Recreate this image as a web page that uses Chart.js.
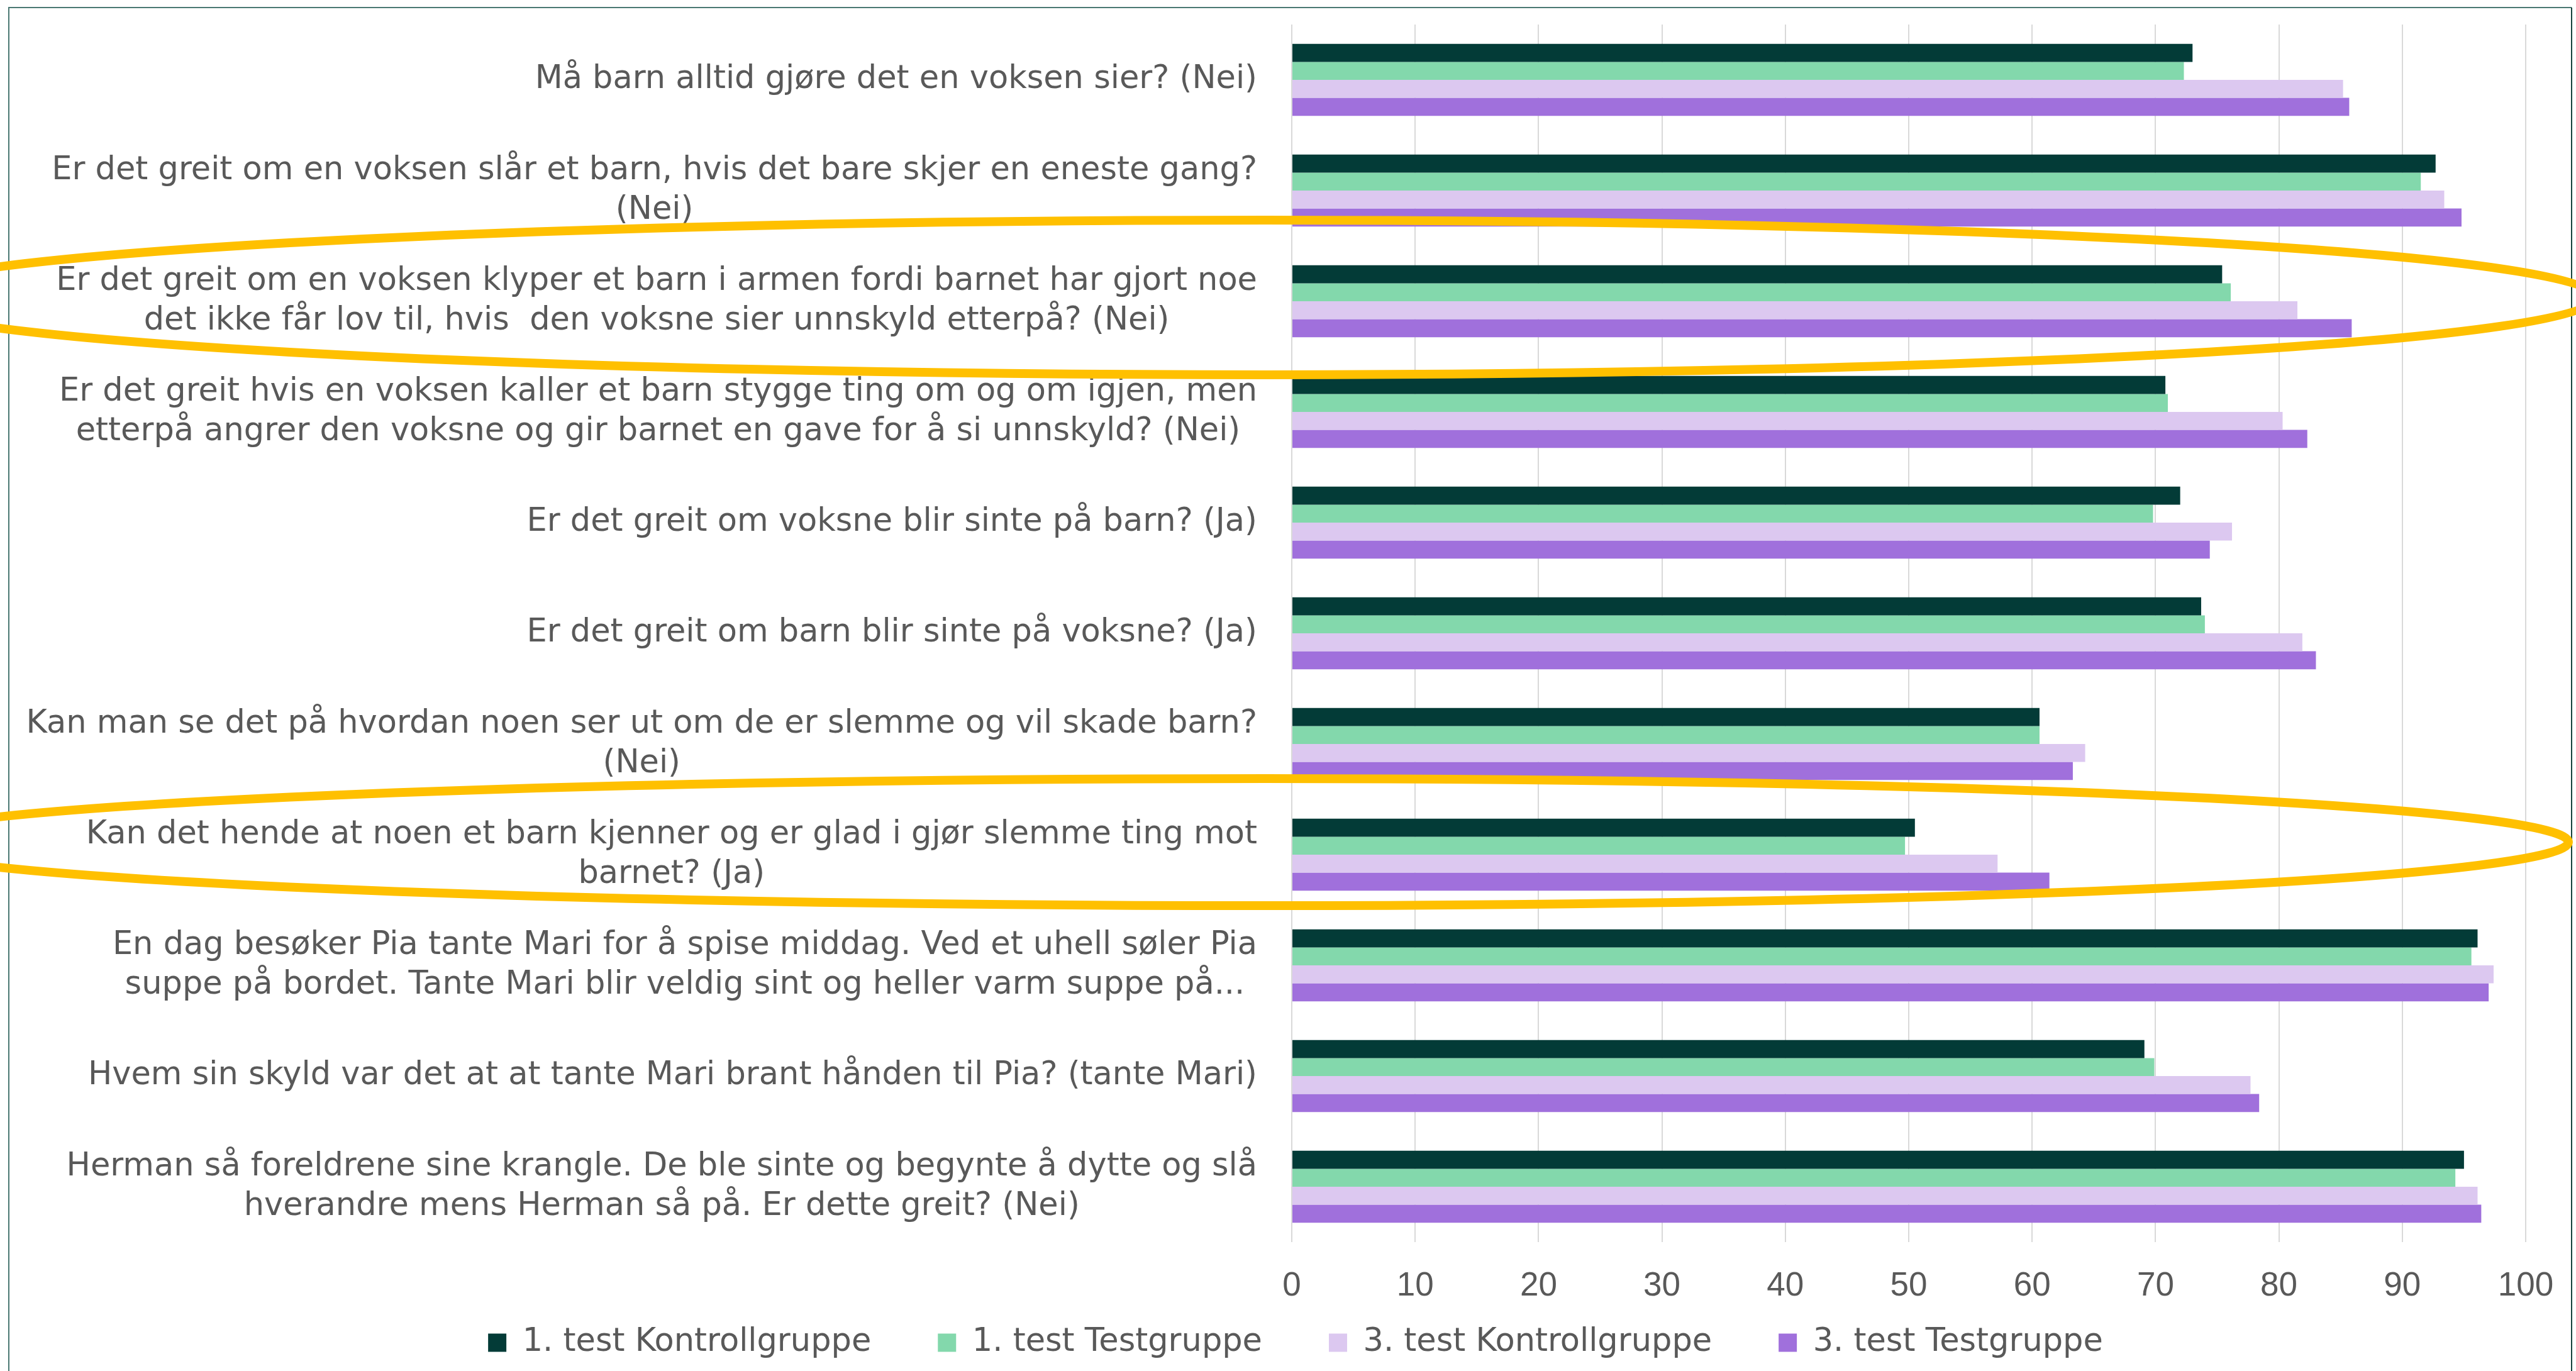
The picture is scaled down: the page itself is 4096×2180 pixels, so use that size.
<!DOCTYPE html>
<html lang="no">
<head>
    <meta charset="UTF-8">
    <title>Svar per spørsmål</title>
    <script src="https://cdn.jsdelivr.net/npm/chart.js@4.4.1/dist/chart.umd.min.js"></script>
    <style>
        html, body {
            margin: 0;
            padding: 0;
            background: #ffffff;
            overflow: hidden;
        }
        #chart {
            display: block;
        }
    </style>
</head>
<body>
    <canvas id="chart" width="4096" height="2180"></canvas>

    <script>
        const categories = [
            'Må barn alltid gjøre det en voksen sier? (Nei)',
            ['Er det greit om en voksen slår et barn, hvis det bare skjer en eneste gang?', '(Nei)'],
            ['Er det greit om en voksen klyper et barn i armen fordi barnet har gjort noe', 'det ikke får lov til, hvis  den voksne sier unnskyld etterpå? (Nei)'],
            ['Er det greit hvis en voksen kaller et barn stygge ting om og om igjen, men', 'etterpå angrer den voksne og gir barnet en gave for å si unnskyld? (Nei)'],
            'Er det greit om voksne blir sinte på barn? (Ja)',
            'Er det greit om barn blir sinte på voksne? (Ja)',
            ['Kan man se det på hvordan noen ser ut om de er slemme og vil skade barn?', '(Nei)'],
            ['Kan det hende at noen et barn kjenner og er glad i gjør slemme ting mot', 'barnet? (Ja)'],
            ['En dag besøker Pia tante Mari for å spise middag. Ved et uhell søler Pia', 'suppe på bordet. Tante Mari blir veldig sint og heller varm suppe på...'],
            'Hvem sin skyld var det at at tante Mari brant hånden til Pia? (tante Mari)',
            ['Herman så foreldrene sine krangle. De ble sinte og begynte å dytte og slå', 'hverandre mens Herman så på. Er dette greit? (Nei)']
        ];

        const seriesNames = ['1. test Kontrollgruppe', '1. test Testgruppe', '3. test Kontrollgruppe', '3. test Testgruppe'];
        const test1Kontroll = [73.0, 92.7, 75.4, 70.8, 72.0, 73.7, 60.6, 50.5, 96.1, 69.1, 95.0];
        const test1Test     = [72.3, 91.5, 76.1, 71.0, 69.8, 74.0, 60.6, 49.7, 95.6, 69.9, 94.3];
        const test3Kontroll = [85.2, 93.4, 81.5, 80.3, 76.2, 81.9, 64.3, 57.2, 97.4, 77.7, 96.1];
        const test3Test     = [85.7, 94.8, 85.9, 82.3, 74.4, 83.0, 63.3, 61.4, 97.0, 78.4, 96.4];

        const xMin = 0;
        const xMax = 100;
        const xStep = 10;

        // questions circled in yellow
        const highlighted = [2, 7];

        const colors = ['#033b37', '#83d8ac', '#dcc8f0', '#a070dc'];
        const textColor = '#595959';
        const labelFont = '"DejaVu Sans", sans-serif';

        // axis labels drawn by hand: category lines centred on each other and
        // right-aligned to the axis (like Excel), value ticks under the plot
        const axisLabels = {
            id: 'axisLabels',
            afterDatasetsDraw(chart) {
                const xScale = chart.scales.x;
                const yScale = chart.scales.y;
                const ctx = chart.ctx;
                ctx.save();
                ctx.fillStyle = textColor;
                ctx.textAlign = 'center';
                ctx.textBaseline = 'middle';

                ctx.font = '51px ' + labelFont;
                const right = yScale.right - 55;
                categories.forEach((label, i) => {
                    const lines = Array.isArray(label) ? label : [label];
                    const w = Math.max(...lines.map(l => ctx.measureText(l).width));
                    const cx = right - w / 2;
                    const cy = yScale.getPixelForValue(i);
                    lines.forEach((line, j) => {
                        ctx.fillText(line, cx, cy + (j - (lines.length - 1) / 2) * 63);
                    });
                });

                ctx.font = '53px "Liberation Sans", sans-serif';
                const ty = chart.chartArea.bottom + 70;
                xScale.ticks.forEach(t => {
                    ctx.fillText(String(t.label ?? t.value), xScale.getPixelForValue(t.value), ty);
                });
                ctx.restore();
            }
        };

        // outer frame and the yellow rings
        const frameAndRings = {
            id: 'frameAndRings',
            beforeDraw(chart) {
                const ctx = chart.ctx;
                ctx.save();
                ctx.fillStyle = '#ffffff';
                ctx.fillRect(0, 0, chart.width, chart.height);
                ctx.restore();
            },
            afterDraw(chart) {
                const ctx = chart.ctx;
                const xScale = chart.scales.x;
                const yScale = chart.scales.y;
                ctx.save();
                ctx.lineWidth = 2;
                ctx.strokeStyle = '#4a7872';
                ctx.beginPath();
                ctx.moveTo(14, chart.height);
                ctx.lineTo(14, 12);
                ctx.lineTo(4089, 12);
                ctx.stroke();
                ctx.strokeStyle = '#17433e';
                ctx.beginPath();
                ctx.moveTo(4089, 12);
                ctx.lineTo(4089, chart.height);
                ctx.stroke();

                const shapes = [
                    { dy: -6, b: 123, aLeft: 2194, aRight: 2117 },
                    { dy: -20, b: 101, aLeft: 2194, aRight: 2072 }
                ];
                ctx.strokeStyle = '#ffc000';
                ctx.lineWidth = 14;
                highlighted.forEach((idx, k) => {
                    const s = shapes[k];
                    const cx = xScale.getPixelForValue(0) - 42;
                    const cy = yScale.getPixelForValue(idx) + s.dy;
                    ctx.beginPath();
                    ctx.ellipse(cx, cy, s.aRight, s.b, 0, -Math.PI / 2, Math.PI / 2);
                    ctx.ellipse(cx, cy, s.aLeft, s.b, 0, Math.PI / 2, Math.PI * 1.5);
                    ctx.closePath();
                    ctx.stroke();
                });
                ctx.restore();
            }
        };

        const seriesData = [test1Kontroll, test1Test, test3Kontroll, test3Test];
        const datasets = seriesNames.map((name, i) => ({
            label: name,
            data: seriesData[i],
            backgroundColor: colors[i],
            borderWidth: 0,
            categoryPercentage: 0.65,
            barPercentage: 1.0
        }));

        new Chart(document.getElementById('chart').getContext('2d'), {
            type: 'bar',
            data: { labels: categories, datasets },
            plugins: [axisLabels, frameAndRings],
            options: {
                indexAxis: 'y',
                responsive: false,
                animation: false,
                devicePixelRatio: 1,
                layout: {
                    padding: { left: 104, right: 80, top: 39, bottom: 9.5 }
                },
                scales: {
                    x: {
                        min: xMin,
                        max: xMax,
                        ticks: {
                            stepSize: xStep,
                            display: false
                        },
                        grid: {
                            color: '#d9d9d9',
                            lineWidth: 2,
                            drawTicks: false
                        },
                        border: { display: false },
                        afterFit(scale) {
                            scale.height = 28.5;
                        }
                    },
                    y: {
                        ticks: { display: false },
                        grid: { display: false },
                        border: { display: false },
                        afterFit(scale) {
                            scale.width = 1950;
                        }
                    }
                },
                plugins: {
                    legend: {
                        position: 'bottom',
                        labels: {
                            boxWidth: 29,
                            boxHeight: 29,
                            padding: 106,
                            color: textColor,
                            font: { family: labelFont, size: 51 }
                        }
                    },
                    tooltip: { enabled: false }
                }
            }
        });
    </script>
</body>
</html>
